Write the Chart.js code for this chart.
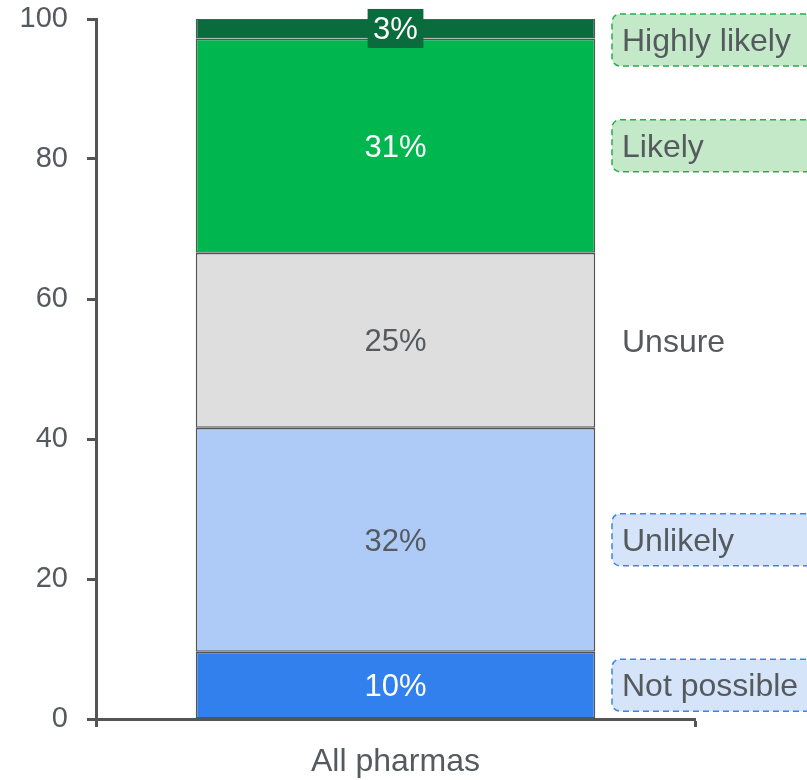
<!DOCTYPE html>
<html>
<head>
<meta charset="utf-8">
<script src="https://cdn.jsdelivr.net/npm/chart.js@4.4.1/dist/chart.umd.min.js"></script>
<style>
  html, body { margin: 0; padding: 0; background: #ffffff; }
  #wrap { width: 807px; height: 780px; position: relative; }
</style>
</head>
<body>
<div id="wrap"><canvas id="c" width="807" height="780"></canvas></div>
<script>
// ---- data ----
const categories = ["All pharmas"];
const seriesNames = ["Not possible", "Unlikely", "Unsure", "Likely", "Highly likely"];
const notPossible = [9.6];
const unlikely = [32.0];
const unsure = [25.0];
const likely = [30.6];
const highlyLikely = [2.9];
const yTicks = [0, 20, 40, 60, 80, 100];

// ---- styles ----
const FONT = "'Liberation Sans', Arial, sans-serif";
const TEXT = "#555a5f";
const AXIS = "#555555";
const fills = ["#3280ed", "#aecbf7", "#dedede", "#00b74f", "#0a6b3c"];
const labelColors = ["#ffffff", TEXT, TEXT, "#ffffff", "#ffffff"];
const legendBox = [
  { fill: "#d6e4f9", stroke: "#3b82f0" },
  { fill: "#d6e4f9", stroke: "#3b82f0" },
  null,
  { fill: "#c3e9c8", stroke: "#22b04b" },
  { fill: "#c3e9c8", stroke: "#22b04b" }
];
const seriesData = [notPossible, unlikely, unsure, likely, highlyLikely];

const datasets = seriesNames.map((name, i) => ({
  label: name,
  data: seriesData[i],
  backgroundColor: fills[i],
  borderColor: "#555555",
  borderWidth: 1.6,
  borderSkipped: false,
  barPercentage: 0.667,
  categoryPercentage: 1.0
}));

function roundRect(ctx, x, y, w, h, r) {
  ctx.beginPath();
  ctx.moveTo(x + r, y);
  ctx.lineTo(x + w - r, y);
  ctx.arcTo(x + w, y, x + w, y + r, r);
  ctx.lineTo(x + w, y + h - r);
  ctx.arcTo(x + w, y + h, x + w - r, y + h, r);
  ctx.lineTo(x + r, y + h);
  ctx.arcTo(x, y + h, x, y + h - r, r);
  ctx.lineTo(x, y + r);
  ctx.arcTo(x, y, x + r, y, r);
  ctx.closePath();
}

const labelPlugin = {
  id: "segLabels",
  afterDatasetsDraw(chart) {
    const ctx = chart.ctx;
    ctx.save();
    ctx.font = "31px " + FONT;
    ctx.textAlign = "center";
    ctx.textBaseline = "middle";
    chart.data.datasets.forEach((ds, i) => {
      const el = chart.getDatasetMeta(i).data[0];
      const v = ds.data[0];
      const cy = (el.y + el.base) / 2;
      const txt = Math.round(v) + "%";
      if (i === 4) {
        const w = ctx.measureText(txt).width + 11;
        ctx.fillStyle = fills[i];
        ctx.fillRect(el.x - w / 2, cy - 19.5, w, 39);
      }
      ctx.fillStyle = labelColors[i];
      ctx.fillText(txt, el.x, cy + 2.5);
    });
    ctx.restore();
  },
  afterDraw(chart) {
    const ctx = chart.ctx;
    const area = chart.chartArea;
    ctx.save();
    ctx.font = "32px " + FONT;
    ctx.textAlign = "left";
    ctx.textBaseline = "middle";
    const bx = area.right - 83;
    const bh = 52;
    chart.data.datasets.forEach((ds, i) => {
      const el = chart.getDatasetMeta(i).data[0];
      let cy = (el.y + el.base) / 2;
      if (cy - bh / 2 < area.top - 5) cy = area.top - 5 + bh / 2;
      const b = legendBox[i];
      if (b) {
        roundRect(ctx, bx, cy - bh / 2, 220, bh, 8);
        ctx.fillStyle = b.fill;
        ctx.fill();
        ctx.setLineDash([6, 4]);
        ctx.lineWidth = 1.5;
        ctx.strokeStyle = b.stroke;
        ctx.stroke();
        ctx.setLineDash([]);
      }
      ctx.fillStyle = TEXT;
      ctx.fillText(ds.label, bx + 10, cy + 2.5);
    });
    ctx.restore();
  }
};

new Chart(document.getElementById("c"), {
  type: "bar",
  data: { labels: categories, datasets },
  options: {
    responsive: false,
    animation: false,
    devicePixelRatio: 1,
    layout: { padding: { top: 19, right: 112, left: 0, bottom: 0 } },
    plugins: { legend: { display: false }, tooltip: { enabled: false } },
    scales: {
      x: {
        stacked: true,
        afterFit(s) { s.height = 61; s.paddingLeft = 0; s.paddingRight = 0; },
        border: { display: true, color: AXIS, width: 3 },
        grid: { display: true, drawOnChartArea: false, drawTicks: true, tickLength: 8, tickWidth: 3, tickColor: AXIS, offset: true },
        ticks: { color: TEXT, font: { family: FONT, size: 32 }, padding: 16 }
      },
      y: {
        stacked: true,
        min: 0,
        max: 100,
        afterFit(s) { s.width = 96; s.paddingTop = 0; s.paddingBottom = 0; },
        afterBuildTicks(s) { s.ticks = yTicks.map(v => ({ value: v })); },
        border: { display: true, color: AXIS, width: 3 },
        grid: { display: true, drawOnChartArea: false, drawTicks: true, tickLength: 9, tickWidth: 3, tickColor: AXIS },
        ticks: { color: TEXT, font: { family: FONT, size: 29 }, padding: 19 }
      }
    }
  },
  plugins: [labelPlugin]
});
</script>
</body>
</html>
